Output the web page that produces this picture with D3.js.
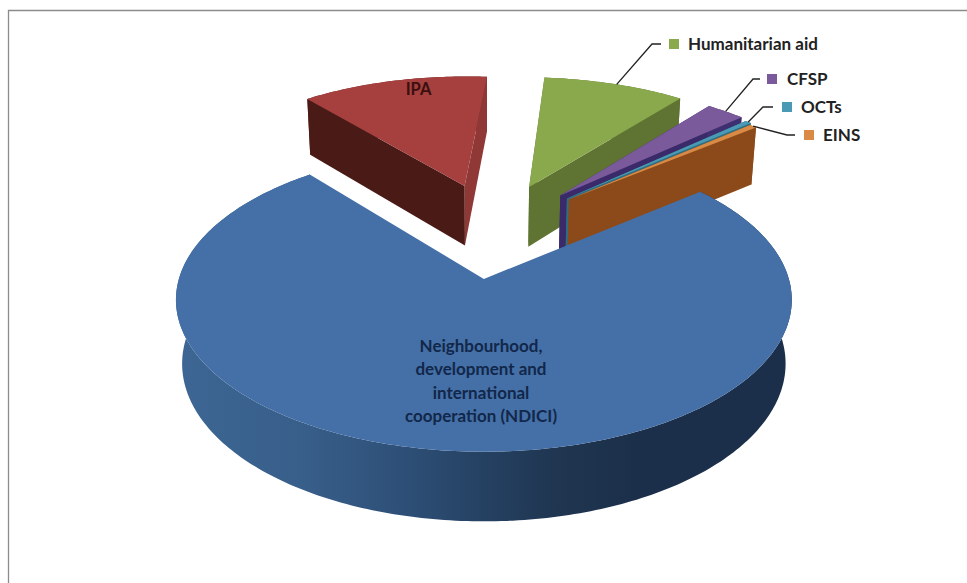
<!DOCTYPE html>
<html>
<head>
<meta charset="utf-8">
<script src="https://cdn.jsdelivr.net/npm/d3@7"></script>
<style>
html,body{margin:0;padding:0;background:#fff;}
svg{display:block;}
text{font-family:Lato,"Open Sans",sans-serif;font-weight:700;}
</style>
</head>
<body>
<svg id="chart" width="967" height="583"></svg>
<script>
const categories = ["Neighbourhood, development and international cooperation (NDICI)","IPA","Humanitarian aid","CFSP","OCTs","EINS"];
const values = [89.2,14.5,11,3,0.5,0.6];
const sliceRadius = [1,0.99,0.99,0.985,0.97,0.955];
const topColors = ["#4470a7","#a5403e","#8aa94d","#7a5a9b","#4a9ab5","#d98a45"];
const outerDark = ["#2f5580","#6f2a28","#5f7535","#533d6e","#317085","#96521c"];
const wallStart = ["#4470a7","#4a1a16","#5f7433","#3a2a6a","#2f6f82","#8c4a1a"];
const wallEnd   = ["#4470a7","#8f3835","#5f7433","#3d2f70","#2f6f82","#8c4a1a"];
const legendKeys = ["Humanitarian aid","CFSP","OCTs","EINS"];
const legendKeyX = [669,767,782,804];
const legendKeyY = [39,74,102,130];
const legendTextX = [688,787,801,823];
const legendElbowX = [652,753,763,787];
const legendEndX = [661,760,773,795];
const centreLabelLines = ["Neighbourhood,","development and","international","cooperation (NDICI)"];
const centreLabelY = [346,369,393,416];

const svg = d3.select("#chart");

// perspective disk -> screen
const apexX = 484, apexY = 279, B = 305, A = 149, K = 0.138;
const vpX = 484, vpY = 3500, T0 = 0.0197;
const explode = 0.35;
const originU = 0.034, originV = -0.349;

function project(u, v, low) {
  const s = 1 / (1 - K * v);
  const x = apexX + B * u * s, y = apexY + A * v * s;
  if (!low) return [x, y];
  const t = T0 * s;
  return [x + (vpX - x) * t, y + (vpY - y) * t];
}

const pie = d3.pie().sort(null).value(d => d)
  .startAngle(50.5 * Math.PI / 180).endAngle((50.5 + 360) * Math.PI / 180);
const arcs = pie(values);
const line = d3.line();

function sliceGeo(a, r) {
  const mid = (a.startAngle + a.endAngle) / 2;
  const cu = originU + explode * Math.sin(mid);
  const cv = originV - explode * Math.cos(mid);
  const n = Math.max(2, Math.ceil((a.endAngle - a.startAngle) * 60));
  const angles = d3.range(n + 1).map(i => a.startAngle + (a.endAngle - a.startAngle) * i / n);
  const rim = angles.map(t => [cu + r * Math.sin(t), cv - r * Math.cos(t)]);
  return {cu, cv, mid, rim};
}

const defs = svg.append("defs");
const grad = defs.append("linearGradient").attr("id", "blueWall")
  .attr("gradientUnits", "userSpaceOnUse")
  .attr("x1", 176).attr("x2", 792).attr("y1", 0).attr("y2", 0);
[[0, "#3d6694"], [0.2, "#385f8a"], [0.364, "#2e5078"], [0.5, "#254162"], [0.625, "#1f3550"], [0.75, "#1b2f4a"], [1, "#1b2f4a"]]
  .forEach(s => grad.append("stop").attr("offset", s[0]).attr("stop-color", s[1]));

// frame: only the top and left rules are inside the picture
svg.append("path").attr("d", line([[8.5, 583], [8.5, 10.5], [967, 10.5]]))
  .attr("fill", "none").attr("stroke", "#8c8c8c").attr("stroke-width", 1.3);

const g = svg.append("g");
const order = [1, 2, 3, 4, 5, 0];
order.forEach(i => {
  const a = arcs[i], geo = sliceGeo(a, sliceRadius[i]);
  const c = [geo.cu, geo.cv];
  const first = geo.rim[0], last = geo.rim[geo.rim.length - 1];
  const outer = geo.rim.map(p => project(p[0], p[1])).concat(geo.rim.slice().reverse().map(p => project(p[0], p[1], true)));
  g.append("path").attr("d", line(outer) + "Z").attr("fill", i === 0 ? "url(#blueWall)" : outerDark[i]);
  const wall = (p, fill) => g.append("path")
    .attr("d", line([project(c[0], c[1]), project(p[0], p[1]), project(p[0], p[1], true), project(c[0], c[1], true)]) + "Z")
    .attr("fill", fill);
  if (i !== 0) {
    wall(last, wallEnd[i]);
    wall(first, wallStart[i]);
  }
  const top = [project(c[0], c[1])].concat(geo.rim.map(p => project(p[0], p[1])));
  g.append("path").attr("d", line(top) + "Z").attr("fill", topColors[i]);
});

// legend with leader lines
legendKeys.forEach((name, k) => {
  const i = categories.indexOf(name);
  const geo = sliceGeo(arcs[i], sliceRadius[i]);
  const p = geo.rim[Math.floor(geo.rim.length / 2)];
  const s = project(p[0], p[1]);
  const y = legendKeyY[k] + 5;
  g.append("path").attr("d", line([s, [legendElbowX[k], y], [legendEndX[k], y]]))
    .attr("fill", "none").attr("stroke", "#222").attr("stroke-width", 1.3);
  g.append("rect").attr("x", legendKeyX[k]).attr("y", legendKeyY[k]).attr("width", 10).attr("height", 10)
    .attr("fill", topColors[i]);
  g.append("text").attr("x", legendTextX[k]).attr("y", y).attr("dy", "0.35em")
    .attr("font-size", 17).attr("fill", "#222").text(name);
});

g.append("text").attr("x", 418.5).attr("y", 89).attr("dy", "0.35em").attr("text-anchor", "middle")
  .attr("font-size", 16.5).attr("fill", "#3a0f0e").text(categories[1]);

centreLabelLines.forEach((t, k) => {
  g.append("text").attr("x", 481).attr("y", centreLabelY[k]).attr("dy", "0.35em")
    .attr("text-anchor", "middle").attr("font-size", 17).attr("fill", "#12274a").text(t);
});
</script>
</body>
</html>
